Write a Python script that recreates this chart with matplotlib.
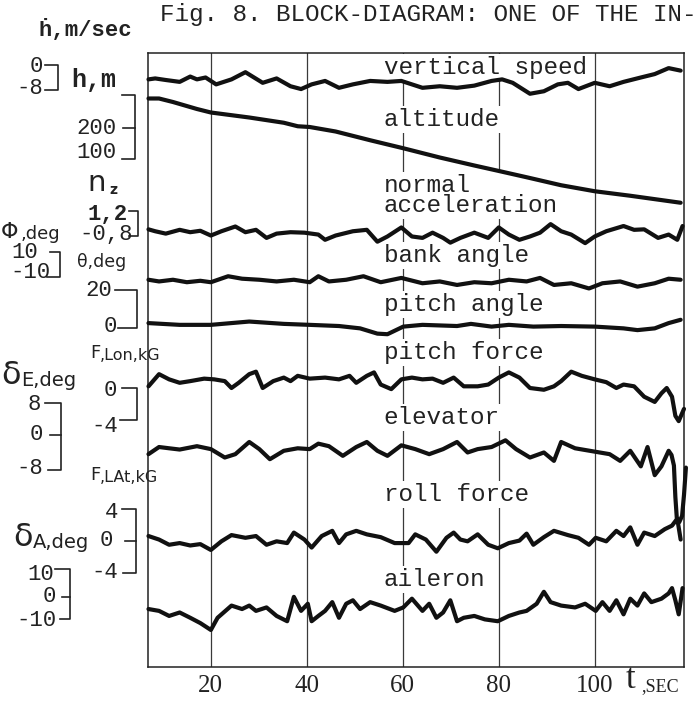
import numpy as np
import matplotlib
matplotlib.use("Agg")
import matplotlib.pyplot as plt

MONO = ["Liberation Mono", "DejaVu Sans Mono"]
HAND = ["DejaVu Sans"]
SERIF = ["Liberation Serif", "DejaVu Serif"]

# ---- traces (t in sec) ----
t_vs = [7.0, 8.4, 10.6, 13.5, 15.7, 17.1, 18.9, 21.1, 24.3, 27.2, 30.8, 33.7, 36.6, 38.8,
        41.0, 43.8, 46.7, 49.6, 53.2, 56.8, 59.7, 64.1, 67.7, 71.3, 74.9, 78.5, 80.7, 82.9,
        86.5, 89.4, 92.3, 94.4, 96.6, 100.0, 103.1, 106.0, 109.6, 112.5, 115.4, 117.9]
vert_speed = [-4.6, -4.3, -4.8, -5.4, -3.7, -4.6, -4.0, -6.2, -4.6, -2.3, -5.7, -4.3, -6.8, -7.7,
              -6.2, -5.1, -7.3, -6.2, -5.1, -5.4, -5.1, -7.3, -6.8, -7.3, -6.6, -5.1, -4.6, -5.7,
              -9.2, -8.4, -6.2, -5.7, -7.7, -5.7, -6.8, -5.4, -4.0, -2.9, -1.0, -1.8]

t_alt = [7.0, 9.2, 12.1, 17.1, 20.0, 28.0, 35.2, 38.1, 40.6, 46.0, 53.2, 60.1, 67.7, 74.9,
         79.8, 85.8, 93.0, 100.0, 107.4, 117.9]
altitude = [318, 318, 304, 276, 262, 242, 221, 207, 204, 186, 151, 119, 82, 50,
            29, 3, -29, -53, -71, -99]

t_nz = [7.0, 8.4, 10.6, 13.5, 15.7, 17.8, 20.0, 22.2, 25.1, 27.2, 29.4, 31.6, 33.7, 36.6,
        39.5, 42.4, 43.8, 46.0, 49.6, 52.5, 54.7, 56.8, 59.7, 61.9, 64.1, 66.2, 68.4, 69.9,
        72.0, 74.9, 77.8, 80.0, 82.1, 84.3, 86.5, 88.6, 90.8, 93.0, 95.1, 98.0, 100.0, 102.4,
        106.0, 108.2, 110.3, 113.2, 115.4, 117.2, 118.3]
normal_acc = [0.94, 0.90, 0.85, 0.93, 0.88, 0.91, 0.81, 0.90, 1.00, 0.88, 0.93, 0.76, 0.85, 0.88,
              0.87, 0.83, 0.72, 0.81, 0.90, 0.93, 0.68, 0.79, 0.98, 0.79, 0.76, 0.87, 0.76, 0.66,
              0.76, 0.87, 0.76, 0.98, 0.83, 0.72, 0.79, 0.87, 1.05, 0.90, 0.83, 0.65, 0.79, 0.90,
              1.01, 0.93, 0.94, 0.76, 0.83, 0.72, 1.01]

t_bank = [7.0, 9.2, 12.1, 15.0, 17.8, 20.0, 23.6, 26.5, 30.1, 33.7, 37.3, 40.6, 42.4, 44.6,
          48.2, 51.8, 55.4, 59.7, 64.1, 67.7, 71.3, 74.9, 78.5, 82.1, 85.8, 88.6, 91.5, 95.1,
          98.8, 101.6, 105.3, 108.9, 112.5, 115.4, 117.9]
bank = [-12.5, -13.8, -12.5, -14.4, -13.3, -14.4, -9.8, -11.7, -12.5, -13.8, -12.5, -14.4, -9.8, -13.8,
        -12.5, -9.8, -14.4, -11.1, -15.2, -13.8, -16.5, -14.4, -15.2, -12.5, -13.8, -11.1, -16.5, -15.2,
        -19.2, -15.2, -13.8, -17.8, -15.2, -11.7, -12.5]

t_pitch = [7.0, 13.5, 20.0, 28.0, 35.2, 40.6, 46.7, 51.1, 54.7, 56.8, 60.1, 64.1, 71.3, 74.2,
           78.5, 82.1, 87.2, 93.0, 100.0, 106.0, 108.9, 112.5, 115.4, 117.9]
pitch = [2.0, 1.1, 1.1, 2.8, 1.6, 1.1, 0.5, -0.7, -3.4, -3.7, 0.2, 1.1, 0.5, 1.6,
         0.2, 1.1, 0.2, 0.5, 0.2, -0.7, -1.6, -0.7, 2.0, 3.7]

t_flon = [7.0, 9.2, 11.3, 13.5, 15.7, 18.6, 20.7, 22.9, 24.3, 25.8, 28.0, 29.4, 30.8, 33.0,
          35.2, 36.6, 38.1, 40.6, 43.8, 46.7, 48.9, 50.3, 52.5, 54.0, 55.4, 57.6, 59.7, 61.9,
          64.1, 66.2, 68.4, 70.6, 72.7, 75.6, 77.8, 80.0, 82.1, 84.3, 86.5, 89.4, 91.5, 93.0,
          95.1, 97.3, 100.0, 102.4, 104.5, 106.0, 108.2, 110.3, 112.5, 113.9, 115.0, 116.1,
          116.8, 117.5, 118.6]
pitch_force = [0.21, 1.73, 1.08, 0.65, 0.86, 1.17, 1.08, 0.86, 0.0, 0.65, 1.73, 2.04, 0.0, 0.86,
               1.30, 0.86, 1.52, 1.17, 1.30, 1.08, 1.52, 0.65, 1.52, 1.95, 0.43, -0.14, 1.08, 1.30,
               1.08, 1.17, 0.65, 1.30, 0.21, 0.21, 0.43, 1.30, 1.95, 1.30, 0.0, -0.22, 0.21, 0.86,
               2.04, 1.52, 1.08, 0.73, 0.0, 0.43, 0.21, -1.09, -1.74, -0.66, 0.0, -1.09,
               -3.48, -4.14, -2.61]

t_elev = [7.0, 9.2, 11.3, 13.5, 17.1, 20.0, 22.9, 25.1, 28.0, 30.1, 32.3, 35.2, 38.1, 40.6,
          42.4, 44.6, 47.5, 50.3, 52.5, 54.7, 56.8, 59.7, 62.6, 65.5, 68.4, 71.3, 73.5, 75.6,
          78.5, 81.4, 83.6, 86.5, 89.4, 91.5, 93.0, 95.9, 100.0, 103.1, 105.3, 107.4, 109.6,
          111.0, 112.5, 113.9, 115.4, 116.0, 116.5, 116.8, 117.1, 117.6, 118.2, 118.6, 119.0]
elevator = [-4.8, -3.1, -3.4, -3.7, -2.9, -3.6, -5.6, -4.8, -1.9, -3.6, -6.0, -4.0, -3.4, -3.6,
            -2.3, -2.9, -5.2, -3.1, -1.9, -4.0, -5.2, -2.7, -3.6, -4.8, -3.6, -1.9, -4.4, -3.6,
            -3.1, -1.5, -3.6, -5.6, -4.4, -6.4, -1.9, -3.4, -4.2, -4.8, -6.4, -4.0, -7.7,
            -3.1, -9.8, -7.7, -4.0, -5.0, -7.5, -15.0, -20.0, -21.0, -19.5, -14.5, -8.0]

t_flat = [7.0, 9.2, 11.3, 13.5, 15.7, 17.8, 20.0, 22.2, 24.3, 27.2, 29.4, 31.6, 33.7, 35.9,
          37.3, 39.5, 41.0, 43.1, 45.3, 46.7, 48.2, 50.3, 52.5, 55.4, 58.3, 61.2, 62.6, 64.8,
          67.0, 69.1, 70.6, 72.0, 73.5, 75.6, 77.8, 79.8, 82.1, 84.3, 85.8, 87.2, 89.4, 91.5,
          94.4, 96.6, 98.8, 100.2, 102.4, 104.5, 106.0, 107.4, 108.9, 110.3, 112.5, 114.6,
          116.1, 117.2, 117.9]
roll_force = [0.62, 0.18, -0.47, -0.26, -0.56, -0.39, -1.12, -0.04, 0.74, 0.40, 0.62, -0.47, -0.04, -0.26,
              1.05, 0.18, -0.82, 0.62, 1.27, -0.26, 0.83, 1.27, 0.83, 0.48, -0.26, -0.26, 0.83, 0.18,
              -1.34, 0.40, 1.05, 0.18, -0.04, 0.83, -0.47, -0.91, -0.26, 0.05, 0.92, -0.47, 0.48, 1.27,
              0.74, 0.40, -0.47, 0.40, -0.04, 1.27, 0.62, 1.70, -0.47, 1.05, 0.62, 1.48,
              1.92, 2.79, 0.18]

t_ail = [7.0, 9.2, 11.3, 13.5, 15.7, 17.8, 20.0, 21.4, 24.3, 26.5, 28.0, 29.4, 31.6, 33.7,
         35.9, 37.3, 38.8, 40.2, 41.0, 42.4, 43.8, 45.3, 46.7, 48.2, 49.6, 51.1, 53.2, 55.4,
         58.3, 60.1, 61.9, 64.1, 65.5, 67.0, 68.4, 69.9, 71.3, 72.7, 74.9, 77.1, 79.8, 82.1,
         84.3, 85.8, 87.9, 89.4, 90.8, 93.0, 95.9, 98.0, 100.2, 101.6, 103.1, 104.5, 106.0,
         107.4, 108.9, 110.3, 111.8, 113.9, 115.4, 116.1, 116.8, 117.5, 118.3]
aileron = [-4.8, -5.6, -7.8, -6.3, -8.6, -10.9, -13.9, -8.6, -3.3, -4.8, -3.3, -5.6, -4.1, -7.8,
           -10.1, 0.5, -5.6, -2.5, -10.1, -7.8, -5.6, -1.8, -8.6, -2.5, -1.0, -4.8, -1.8, -3.3,
           -5.6, -4.1, -0.3, -5.6, -2.5, -8.6, -6.3, -1.0, -10.1, -8.6, -7.8, -9.3, -10.1, -7.8,
           -6.3, -5.6, -2.5, 2.7, -1.8, -3.3, -4.1, -2.5, -5.6, -1.8, -5.6, -1.0, -7.1,
           -0.3, -3.3, 2.0, -1.8, -0.3, 2.0, 4.3, -1.0, -7.1, 4.3]

time_ticks = [20, 40, 60, 80, 100]
time_labels = ["20", "40", "60", "80", "100"]

# channel -> (zero level, px per unit) on the stacked chart
channels = [
    (t_vs, vert_speed, 65, 3.125),
    (t_alt, altitude, 178, 0.25),
    (t_nz, normal_acc, 274, 47.5),
    (t_bank, bank, 263.5, 1.3),
    (t_pitch, pitch, 327, 1.95),
    (t_flon, pitch_force, 388, 8.0),
    (t_elev, elevator, 434, 4.2),
    (t_flat, roll_force, 541, 8.0),
    (t_ail, aileron, 598, 2.3),
]

trace_names = [("vertical speed", 74), ("altitude", 126), ("bank angle", 262),
               ("pitch angle", 311), ("pitch force", 359), ("elevator", 424),
               ("roll force", 501), ("aileron", 586)]

W, H = 698, 701
fig = plt.figure(figsize=(W / 100, H / 100), dpi=100)
fig.patch.set_facecolor("white")

ax = fig.add_axes([148 / W, 1 - 667 / H, (684 - 148) / W, (667 - 53) / H])
ax.set_xlim(6.9, 118.6)
ax.set_ylim(667, 53)
ax.set_yticks([])
ax.set_xticks(time_ticks, time_labels)
ax.tick_params(axis="x", length=0, pad=6, labelsize=18, labelcolor="#222")
for lab in ax.get_xticklabels():
    lab.set_fontfamily(SERIF)
ax.grid(True, axis="x", color="#3a3a3a", lw=0.9, zorder=0.5)
ax.set_axisbelow(True)
for sp in ax.spines.values():
    sp.set_linewidth(1.1)
    sp.set_color("#222")

for t, vals, zero, scale in channels:
    y = zero - np.asarray(vals) * scale
    ax.plot(t, y, color="#111", lw=3.0, solid_joinstyle="round",
            solid_capstyle="round", zorder=3, clip_on=False)

label_box = dict(facecolor="white", edgecolor="none", pad=1.5)
for name, base in trace_names:
    ax.text(56.0, base, name, family=MONO, fontsize=17.5, color="#222",
            va="baseline", ha="left", zorder=2, bbox=label_box)
ax.text(56.0, 174, "normal\nacceleration", family=MONO, fontsize=17.5, color="#222",
        va="top", ha="left", linespacing=0.82, zorder=2, bbox=label_box)

# ---- annotation layer in pixel coords ----
ann = fig.add_axes([0, 0, 1, 1])
ann.set_xlim(0, W)
ann.set_ylim(H, 0)
ann.axis("off")

ann.text(160, 15, "Fig. 8. BLOCK-DIAGRAM: ONE OF THE IN-", family=MONO,
         fontsize=17.5, color="#222", ha="left", va="center")
ann.text(85, 30, "ḣ,m/sec", family=MONO, fontsize=16, fontweight="bold",
         color="#222", ha="center", va="center")
ann.text(94, 80, "h,m", family=MONO, fontsize=18, fontweight="bold",
         color="#222", ha="center", va="center")

scale_nums = [("0", 43, 66), ("-8", 43, 88), ("200", 117, 128), ("100", 117, 153),
              ("-0,8", 133, 235), ("10", 38, 252), ("-10", 50, 273),
              ("20", 112, 290), ("0", 117, 326), ("0", 117, 390), ("-4", 118, 427),
              ("8", 41, 405), ("0", 43, 435), ("-8", 43, 469), ("4", 118, 513),
              ("0", 113, 541), ("-4", 118, 573), ("10", 54, 575), ("0", 56, 597),
              ("-10", 56, 620)]
for s, xr, yc in scale_nums:
    ann.text(xr, yc, s, family=MONO, fontsize=16, color="#222", ha="right", va="center")
ann.text(128, 215, "1,2", family=MONO, fontsize=16, fontweight="bold", color="#222",
         ha="right", va="center")

brackets = [
    [(45, 65), (58, 65), (58, 90), (45, 90)],
    [(122, 95), (135, 95), (135, 159), (122, 159)],
    [(123, 128), (135, 128)],
    [(129, 211), (138, 211), (138, 236), (129, 236)],
    [(50, 252), (60, 252), (60, 277), (47, 277)],
    [(115, 290), (137, 290), (137, 328), (118, 328)],
    [(122, 388), (137, 388), (137, 420), (120, 420)],
    [(45, 403), (61, 403), (61, 470), (48, 470)],
    [(50, 435), (61, 435)],
    [(122, 509), (136, 509), (136, 573), (123, 573)],
    [(125, 541), (136, 541)],
    [(55, 569), (70, 569), (70, 619), (60, 619)],
    [(62, 597), (70, 597)],
]
for pts in brackets:
    xs, ys = zip(*pts)
    ann.plot(xs, ys, color="#222", lw=1.2)

ann.text(97, 183, "n", family=HAND, fontsize=21, color="#222", ha="center", va="center")
ann.text(113, 190, "z", family=HAND, fontsize=10, fontweight="bold", color="#222",
         ha="center", va="center")
ann.text(1, 232, "Φ", family=HAND, fontsize=16, color="#222", ha="left", va="center")
ann.text(21, 234, ",deg", family=HAND, fontsize=13, color="#222", ha="left", va="center")
ann.text(77, 262, "θ,deg", family=HAND, fontsize=12.5, color="#222", ha="left", va="center")
ann.text(90, 353, "F", family=HAND, fontsize=13, color="#222", ha="left", va="center")
ann.text(100, 355, ",Lon,kG", family=HAND, fontsize=11.5, color="#222", ha="left", va="center")
ann.text(90, 475, "F", family=HAND, fontsize=13, color="#222", ha="left", va="center")
ann.text(100, 477, ",LAt,kG", family=HAND, fontsize=11.5, color="#222", ha="left", va="center")
ann.text(1, 376, "δ", family=HAND, fontsize=23, color="#222", ha="left", va="center")
ann.text(21, 380, "E,deg", family=HAND, fontsize=14, color="#222", ha="left", va="center")
ann.text(13, 538, "δ", family=HAND, fontsize=23, color="#222", ha="left", va="center")
ann.text(33, 542, "A,deg", family=HAND, fontsize=14, color="#222", ha="left", va="center")

ann.text(626, 680, "t", family=SERIF, fontsize=25, color="#222", ha="left", va="center")
ann.text(641, 687, ",SEC", family=SERIF, fontsize=13, color="#222", ha="left", va="center")

fig.savefig("out.png", dpi=100, facecolor="white")
